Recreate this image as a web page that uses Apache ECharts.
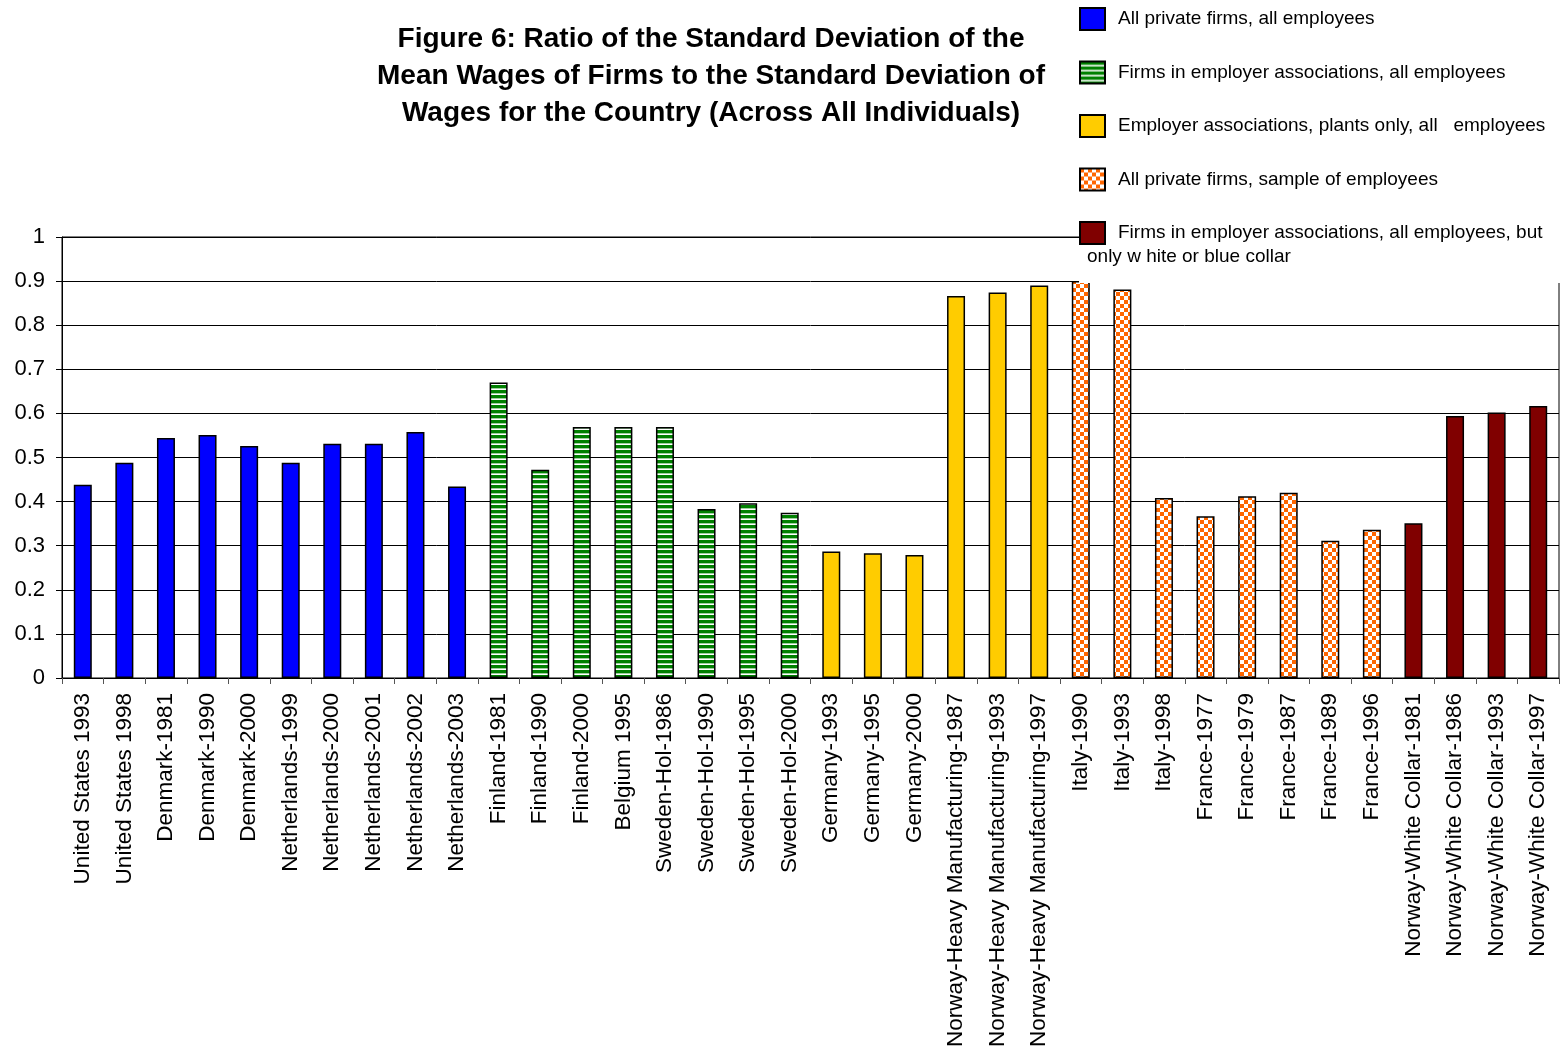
<!DOCTYPE html>
<html><head><meta charset="utf-8">
<script src="https://cdn.jsdelivr.net/npm/echarts@6/dist/echarts.min.js"></script>
<style>html,body{margin:0;padding:0;background:#fff}#c{width:1564px;height:1050px}</style>
</head><body><div id="c"></div>
<script>
const categories = ["United States 1993","United States 1998","Denmark-1981","Denmark-1990","Denmark-2000","Netherlands-1999","Netherlands-2000","Netherlands-2001","Netherlands-2002","Netherlands-2003","Finland-1981","Finland-1990","Finland-2000","Belgium 1995","Sweden-Hol-1986","Sweden-Hol-1990","Sweden-Hol-1995","Sweden-Hol-2000","Germany-1993","Germany-1995","Germany-2000","Norway-Heavy Manufacturing-1987","Norway-Heavy Manufacturing-1993","Norway-Heavy Manufacturing-1997","Italy-1990","Italy-1993","Italy-1998","France-1977","France-1979","France-1987","France-1989","France-1996","Norway-White Collar-1981","Norway-White Collar-1986","Norway-White Collar-1993","Norway-White Collar-1997"];
const values = [0.438,0.488,0.544,0.551,0.526,0.488,0.531,0.531,0.558,0.434,0.670,0.472,0.569,0.569,0.569,0.383,0.396,0.375,0.287,0.283,0.279,0.866,0.874,0.890,0.900,0.881,0.408,0.367,0.412,0.420,0.311,0.336,0.351,0.594,0.602,0.617];
const groupOf = [0,0,0,0,0,0,0,0,0,0,1,1,1,1,1,1,1,1,2,2,2,2,2,2,3,3,3,3,3,3,3,3,4,4,4,4];
const seriesNames = ["All private firms, all employees","Firms in employer associations, all employees","Employer associations, plants only, all   employees","All private firms, sample of employees","Firms in employer associations, all employees, but only w hite or blue collar"];
const legendLabels = ["All private firms, all employees","Firms in employer associations, all employees","Employer associations, plants only, all   employees","All private firms, sample of employees","Firms in employer associations, all employees, but"];
const legendExtraLine = "only w hite or blue collar";
const titleText = "Figure 6: Ratio of the Standard Deviation of the\nMean Wages of Firms to the Standard Deviation of\nWages for the Country (Across All Individuals)";

function stripes(){
  const c=document.createElement('canvas');c.width=4;c.height=5;
  const g=c.getContext('2d');g.fillStyle='#fff';g.fillRect(0,0,4,5);
  g.fillStyle='#008000';g.fillRect(0,0,4,3);
  g.fillStyle='#9fd09f';g.fillRect(0,3,4,1);
  return {image:c,repeat:'repeat'};
}
function checker(){
  const c=document.createElement('canvas');c.width=8;c.height=8;
  const g=c.getContext('2d');g.fillStyle='#fff';g.fillRect(0,0,8,8);
  g.fillStyle='#FF6600';g.fillRect(0,0,4,4);g.fillRect(4,4,4,4);
  return {image:c,repeat:'repeat'};
}
const fills = ['#0000FF', stripes(), '#FFCC00', checker(), '#800000'];

const series = seriesNames.map((name,si)=>({
  name, type:'bar', barWidth:18, barGap:'-100%',
  itemStyle:{color:fills[si], borderColor:'#000', borderWidth:1.5},
  data: values.map((v,i)=> groupOf[i]===si ? v : '-')
}));

const chart = echarts.init(document.getElementById('c'));
chart.setOption({
  animation:false,
  backgroundColor:'#fff',
  title:{text:titleText,left:706,top:16,textAlign:'center',
    textStyle:{fontFamily:'Liberation Sans, Arial',fontSize:28,fontWeight:'bold',lineHeight:37,color:'#000'}},
  grid:{left:62,right:5,top:237,bottom:372,show:true,borderColor:'#000',borderWidth:1},
  legend:{orient:'vertical',left:1074,top:2,itemWidth:25,itemHeight:22,itemGap:29.5,z:20,
    icon:'rect',
    textStyle:{fontFamily:'Liberation Sans, Arial',fontSize:19,color:'#000',padding:[0,0,0,8]},
    formatter:(n)=>legendLabels[seriesNames.indexOf(n)],
    data:seriesNames},
  graphic:[
    {type:'rect',z:15,shape:{x:1079,y:0,width:485,height:283},style:{fill:'#fff'}},
    {type:'text',z:21,left:1087,top:247,style:{text:legendExtraLine,fontFamily:'Liberation Sans, Arial',fontSize:19,fill:'#000'}}
  ],
  xAxis:{type:'category',data:categories,
    axisLine:{lineStyle:{color:'#000',width:1}},
    axisTick:{show:true,length:6,lineStyle:{color:'#555'}},
    axisLabel:{rotate:90,interval:0,margin:15,fontFamily:'Liberation Sans, Arial',fontSize:22.5,color:'#000'}},
  yAxis:{type:'value',min:0,max:1,interval:0.1,
    axisLine:{show:true,lineStyle:{color:'#000',width:1}},
    axisTick:{show:true,length:6,lineStyle:{color:'#000'}},
    splitLine:{show:true,lineStyle:{color:'#000',width:1}},
    axisLabel:{margin:17,fontFamily:'Liberation Sans, Arial',fontSize:22,color:'#000'}},
  series
});
</script></body></html>
